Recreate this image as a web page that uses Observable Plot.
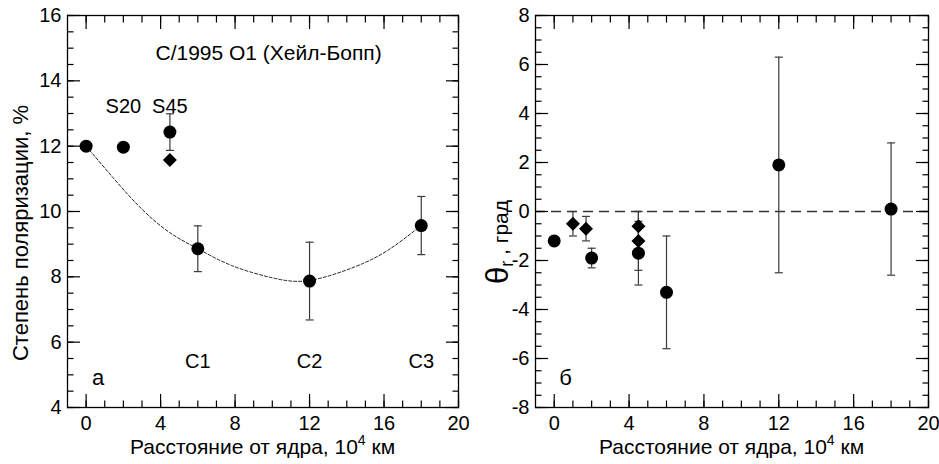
<!DOCTYPE html>
<html><head><meta charset="utf-8">
<script src="https://cdn.jsdelivr.net/npm/d3@7"></script>
<script src="https://cdn.jsdelivr.net/npm/@observablehq/plot@0.6"></script>
<style>
body{margin:0;background:#fff;}
#wrap{display:flex;width:939px;height:464px;}
</style></head><body><div id="wrap"></div>
<script>
// ---------- data: panel а (degree of polarization) ----------
const polDistance = [0, 2, 4.5, 6, 12, 18];
const polValue    = [12.0, 11.97, 12.43, 8.86, 7.87, 9.57];
const polError    = [0, 0, 0.56, 0.70, 1.19, 0.89];
const polDiamondDistance = [4.5];
const polDiamondValue    = [11.58];
const fitDistance = [0, 1.5, 3, 4.5, 6, 7.8, 10, 12, 14.4, 16.2, 18];
const fitValue    = [12.0, 11.0, 10.07, 9.35, 8.86, 8.35, 7.97, 7.89, 8.3, 8.81, 9.57];
const polLabels   = ["S20", "S45", "C1", "C2", "C3"];
const polLabelX   = [2, 4.5, 6, 12, 18];
const polLabelY   = [13.2, 13.2, 5.4, 5.4, 5.4];

// ---------- data: panel б (theta_r) ----------
const thetaCircleDistance = [0, 2, 4.5, 6, 12, 18];
const thetaCircleValue    = [-1.2, -1.9, -1.7, -3.3, 1.9, 0.1];
const thetaCircleError    = [0, 0.4, 1.3, 2.3, 4.4, 2.7];
const thetaDiamondDistance = [1.0, 1.7, 4.5, 4.5];
const thetaDiamondValue    = [-0.5, -0.7, -0.6, -1.2];
const thetaDiamondError    = [0.5, 0.5, 0.6, 1.2];

// ---------- ticks ----------
const xMajor = [0, 4, 8, 12, 16, 20];
const xMinor = [0,1,2,3,4,5,6,7,8,9,10,11,12,13,14,15,16,17,18,19,20];
const polYMajor = [4, 6, 8, 10, 12, 14, 16];
const polYMinor = [4,4.5,5,5.5,6,6.5,7,7.5,8,8.5,9,9.5,10,10.5,11,11.5,12,12.5,13,13.5,14,14.5,15,15.5,16];
const thetaYMajor = [-8, -6, -4, -2, 0, 2, 4, 6, 8];
const thetaYLabels = ["-8", "-6", "-4", "-2", "0", "2", "4", "6", "8"];
const thetaYMinor = [-8,-7.5,-7,-6.5,-6,-5.5,-5,-4.5,-4,-3.5,-3,-2.5,-2,-1.5,-1,-0.5,0,0.5,1,1.5,2,2.5,3,3.5,4,4.5,5,5.5,6,6.5,7,7.5,8];

const FONT = "'Liberation Sans', Arial, Helvetica, sans-serif";
const zip = (xs, ys, es) => xs.map((x, i) => ({x, y: ys[i], e: es ? es[i] : 0}));
const capSymbol = {draw(ctx) { ctx.moveTo(-4, 0); ctx.lineTo(4, 0); }};

function errMarks(rows) {
  const withErr = rows.filter(d => d.e > 0);
  return [
    Plot.ruleX(withErr, {x: "x", y1: d => d.y - d.e, y2: d => d.y + d.e, stroke: "#3a3a3a", strokeWidth: 1.2}),
    Plot.dot(withErr, {x: "x", y: d => d.y + d.e, symbol: capSymbol, stroke: "#3a3a3a", strokeWidth: 1.2, fill: "none"}),
    Plot.dot(withErr, {x: "x", y: d => d.y - d.e, symbol: capSymbol, stroke: "#3a3a3a", strokeWidth: 1.2, fill: "none"})
  ];
}

function axes(yMajor, yMinor, yFmt) {
  const tk = {stroke: "#000", strokeWidth: 1.2, fill: "none", label: null};
  return [
    Plot.axisX(xMajor, {anchor: "bottom", tickSize: -13, ...tk}),
    Plot.axisX(xMinor, {anchor: "bottom", tickSize: -6.5, ...tk}),
    Plot.axisX(xMajor, {anchor: "top", tickSize: -13, ...tk}),
    Plot.axisX(xMinor, {anchor: "top", tickSize: -6.5, ...tk}),
    Plot.axisY(yMajor, {anchor: "left", tickSize: -13, ...tk}),
    Plot.axisY(yMinor, {anchor: "left", tickSize: -6.5, ...tk}),
    Plot.axisY(yMajor, {anchor: "right", tickSize: -13, ...tk}),
    Plot.axisY(yMinor, {anchor: "right", tickSize: -6.5, ...tk}),
    Plot.axisX(xMajor, {anchor: "bottom", tickSize: 0, tickPadding: 8, label: null, fontSize: 20, fill: "#000"}),
    Plot.axisY(yMajor, {anchor: "left", tickSize: 0, tickPadding: 6, label: null, fontSize: 20, fill: "#000", tickFormat: yFmt})
  ];
}

function richText(svg, x, y, rotate, anchor, parts) {
  const t = d3.select(svg).append("text")
    .attr("transform", `translate(${x},${y}) rotate(${rotate})`)
    .attr("text-anchor", anchor).attr("font-family", FONT).attr("fill", "#000");
  for (const p of parts) {
    const ts = t.append("tspan").text(p.text).attr("font-size", p.size);
    if (p.dy) ts.attr("dy", p.dy);
  }
}

// ---------- panel а ----------
const polRows = zip(polDistance, polValue, polError);
const polDiamonds = zip(polDiamondDistance, polDiamondValue);
const fitRows = zip(fitDistance, fitValue);
const labelRows = polLabels.map((t, i) => ({t, x: polLabelX[i], y: polLabelY[i]}));

const left = Plot.plot({
  width: 470, height: 464,
  marginLeft: 67, marginRight: 12, marginTop: 15, marginBottom: 57,
  x: {domain: [-1, 20], axis: null},
  y: {domain: [4, 16], axis: null},
  style: {fontFamily: FONT, fontSize: "20px", color: "#000", background: "#fff"},
  marks: [
    Plot.line(fitRows, {x: "x", y: "y", curve: "natural", stroke: "#222", strokeWidth: 1, strokeDasharray: "3,2"}),
    ...errMarks(polRows),
    Plot.dot(polRows, {x: "x", y: "y", r: 6.5, fill: "#000", stroke: "none"}),
    Plot.dot(polDiamonds, {x: "x", y: "y", symbol: "diamond2", r: 6.3, fill: "#000", stroke: "none"}),
    Plot.text(labelRows, {x: "x", y: "y", text: "t", fontSize: 20, fill: "#000"}),
    Plot.text(["C/1995 O1 (Хейл-Бопп)"], {x: 9.8, y: 14.85, text: d => d, fontSize: 21, fill: "#000"}),
    Plot.text(["а"], {x: 0.65, y: 4.9, text: d => d, fontSize: 22, fill: "#000"}),
    Plot.frame({stroke: "#000", strokeWidth: 1.3}),
    ...axes(polYMajor, polYMinor, d => String(d))
  ]
});

// ---------- panel б ----------
const thetaCircles = zip(thetaCircleDistance, thetaCircleValue, thetaCircleError);
const thetaDiamonds = zip(thetaDiamondDistance, thetaDiamondValue, thetaDiamondError);

const right = Plot.plot({
  width: 469, height: 464,
  marginLeft: 65, marginRight: 11, marginTop: 15, marginBottom: 57,
  x: {domain: [-1, 20], axis: null},
  y: {domain: [-8, 8], axis: null},
  style: {fontFamily: FONT, fontSize: "20px", color: "#000", background: "#fff"},
  marks: [
    Plot.ruleY([0], {stroke: "#333", strokeWidth: 1.3, strokeDasharray: "10,6"}),
    ...errMarks(thetaDiamonds),
    ...errMarks(thetaCircles),
    Plot.dot(thetaCircles, {x: "x", y: "y", r: 6.5, fill: "#000", stroke: "none"}),
    Plot.dot(thetaDiamonds, {x: "x", y: "y", symbol: "diamond2", r: 6.3, fill: "#000", stroke: "none"}),
    Plot.text(["б"], {x: 0.6, y: -6.8, text: d => d, fontSize: 22, fill: "#000"}),
    Plot.frame({stroke: "#000", strokeWidth: 1.3}),
    ...axes(thetaYMajor, thetaYMinor, d => thetaYLabels[thetaYMajor.indexOf(d)])
  ]
});

// axis titles
const xTitle = [
  {text: "Расстояние от ядра, 10", size: 21},
  {text: "4", size: 14, dy: -9},
  {text: " км", size: 21, dy: 9}
];
richText(left, (67 + 458) / 2, 454, 0, "middle", xTitle);
richText(right, (65 + 458) / 2, 454, 0, "middle", xTitle);
richText(left, 28, 233, -90, "middle", [{text: "Степень поляризации, %", size: 22}]);
richText(right, 38, 284, -90, "start", [
  {text: "θ", size: 31},
  {text: "r", size: 18, dy: 5},
  {text: " , град", size: 21, dy: -5}
]);

document.getElementById("wrap").append(left, right);
</script></body></html>
